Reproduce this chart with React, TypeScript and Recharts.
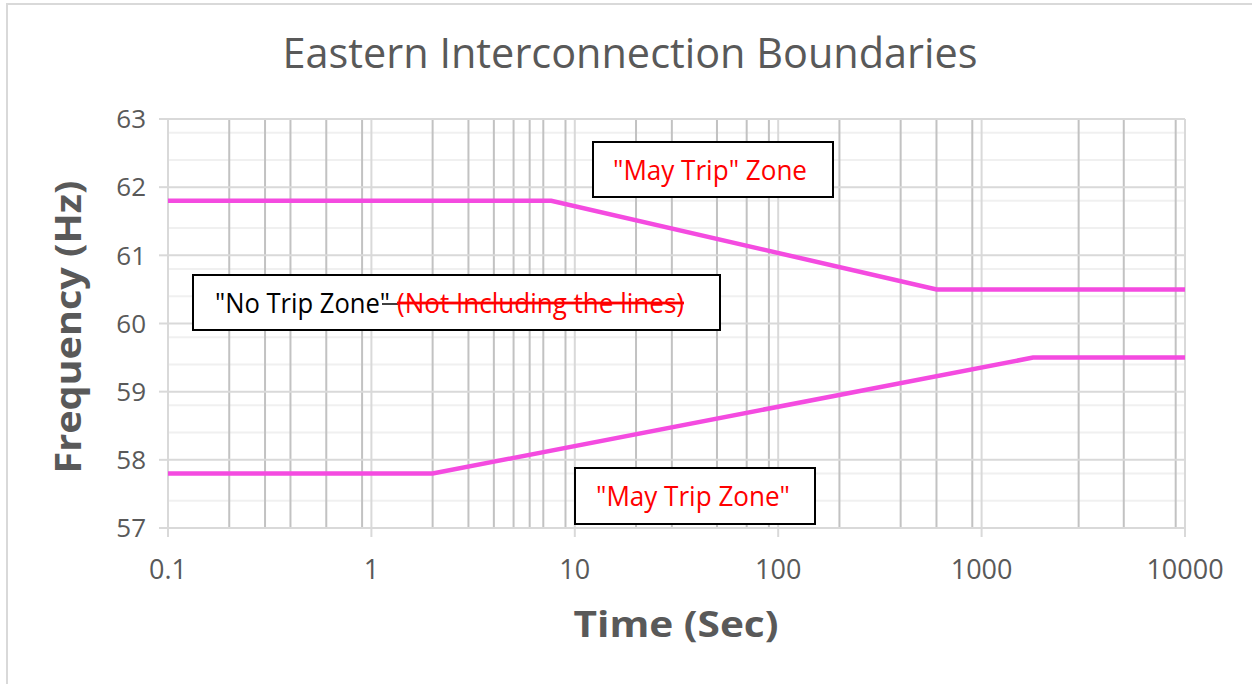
import React from 'react';
import { LineChart, Line, XAxis, YAxis, CartesianGrid } from 'recharts';

// NERC PRC-024 Eastern Interconnection frequency boundaries
const upperBoundary = [
  { t: 0.1, f: 61.8 },
  { t: 7.66, f: 61.8 },
  { t: 601, f: 60.5 },
  { t: 10000, f: 60.5 },
];

const lowerBoundary = [
  { t: 0.1, f: 57.8 },
  { t: 2, f: 57.8 },
  { t: 1790, f: 59.5 },
  { t: 10000, f: 59.5 },
];

const xTicks = [0.1, 1, 10, 100, 1000, 10000];
const yTicks = [57, 58, 59, 60, 61, 62, 63];

// log minor gridlines (2..9 inside each decade)
const xMinor = [
  0.2, 0.3, 0.4, 0.5, 0.6, 0.7, 0.8, 0.9,
  2, 3, 4, 5, 6, 7, 8, 9,
  20, 30, 40, 50, 60, 70, 80, 90,
  200, 300, 400, 500, 600, 700, 800, 900,
  2000, 3000, 4000, 5000, 6000, 7000, 8000, 9000,
];
const yMinor = [
  57.2, 57.4, 57.6, 57.8, 58.2, 58.4, 58.6, 58.8, 59.2, 59.4, 59.6, 59.8,
  60.2, 60.4, 60.6, 60.8, 61.2, 61.4, 61.6, 61.8, 62.2, 62.4, 62.6, 62.8,
];

const FONT = '"Open Sans", sans-serif';
const GREY = '#595959';
const LINE = '#f44be0';

export default function App() {
  return (
    <div style={{ position: 'absolute', left: 0, top: 0, width: 1252, height: 684, background: '#fff', overflow: 'hidden', fontFamily: FONT }}>
      <div style={{ position: 'absolute', left: 6, top: 3, width: 1300, height: 700, border: '2px solid #d9d9d9', boxSizing: 'border-box' }} />
      <LineChart width={1252} height={684} margin={{ top: 119, right: 67, bottom: 96, left: 108 }}>
        <CartesianGrid horizontalValues={yMinor} vertical={false} stroke="#f0f0f0" strokeWidth={2} />
        <CartesianGrid verticalValues={xMinor} horizontal={false} stroke="#c2c2c2" strokeWidth={2} />
        <CartesianGrid verticalValues={xTicks} horizontalValues={yTicks} stroke="#d9d9d9" strokeWidth={2} />
        <XAxis
          dataKey="t"
          type="number"
          scale="log"
          domain={[0.1, 10000]}
          ticks={xTicks}
          allowDataOverflow
          height={60}
          tickSize={9}
          tickMargin={23}
          tick={{ fill: GREY, fontSize: 27, fontFamily: FONT }}
          tickLine={{ stroke: '#d9d9d9', strokeWidth: 2 }}
          axisLine={{ stroke: '#d9d9d9', strokeWidth: 2 }}
        />
        <YAxis
          dataKey="f"
          type="number"
          domain={[57, 63]}
          ticks={yTicks}
          width={60}
          tickSize={9}
          tickMargin={13}
          tick={{ fill: GREY, fontSize: 26, fontFamily: FONT }}
          tickLine={{ stroke: '#d9d9d9', strokeWidth: 2 }}
          axisLine={false}
        />
        <Line data={upperBoundary} dataKey="f" type="linear" stroke={LINE} strokeWidth={4.5} dot={false} isAnimationActive={false} />
        <Line data={lowerBoundary} dataKey="f" type="linear" stroke={LINE} strokeWidth={4.5} dot={false} isAnimationActive={false} />
      </LineChart>
      <svg width={1252} height={684} style={{ position: 'absolute', left: 0, top: 0, pointerEvents: 'none' }}>
        <text x={630} y={68} textAnchor="middle" fontSize={42} fill={GREY} fontFamily={FONT} textLength={695} lengthAdjust="spacingAndGlyphs">
          Eastern Interconnection Boundaries
        </text>
        <text x={676} y={637} textAnchor="middle" fontSize={36} fontWeight="bold" fill={GREY} fontFamily={FONT} textLength={205} lengthAdjust="spacingAndGlyphs">
          Time (Sec)
        </text>
        <text transform="translate(81,327) rotate(-90)" textAnchor="middle" fontSize={36} fontWeight="bold" fill={GREY} fontFamily={FONT} textLength={293} lengthAdjust="spacingAndGlyphs">
          Frequency (Hz)
        </text>

        <rect x={593} y={142} width={240} height={55} fill="#fff" stroke="#000" strokeWidth={2} />
        <text x={613} y={180} fontSize={28} fill="#ff0000" fontFamily={FONT} textLength={194} lengthAdjust="spacingAndGlyphs">
          "May Trip" Zone
        </text>

        <rect x={193} y={275} width={527} height={55} fill="#fff" stroke="#000" strokeWidth={2} />
        <text x={215} y={313} fontSize={28} fill="#000" fontFamily={FONT} textLength={175} lengthAdjust="spacingAndGlyphs">
          "No Trip Zone"
        </text>
        <line x1={382} y1={304} x2={398} y2={304} stroke="#000" strokeWidth={1.5} />
        <text x={397} y={313} fontSize={28} fill="#ff0000" fontFamily={FONT} textLength={287} lengthAdjust="spacingAndGlyphs" textDecoration="line-through">
          (Not Including the lines)
        </text>

        <rect x={575} y={468} width={240} height={56} fill="#fff" stroke="#000" strokeWidth={2} />
        <text x={596} y={506} fontSize={28} fill="#ff0000" fontFamily={FONT} textLength={194} lengthAdjust="spacingAndGlyphs">
          "May Trip Zone"
        </text>
      </svg>
    </div>
  );
}
